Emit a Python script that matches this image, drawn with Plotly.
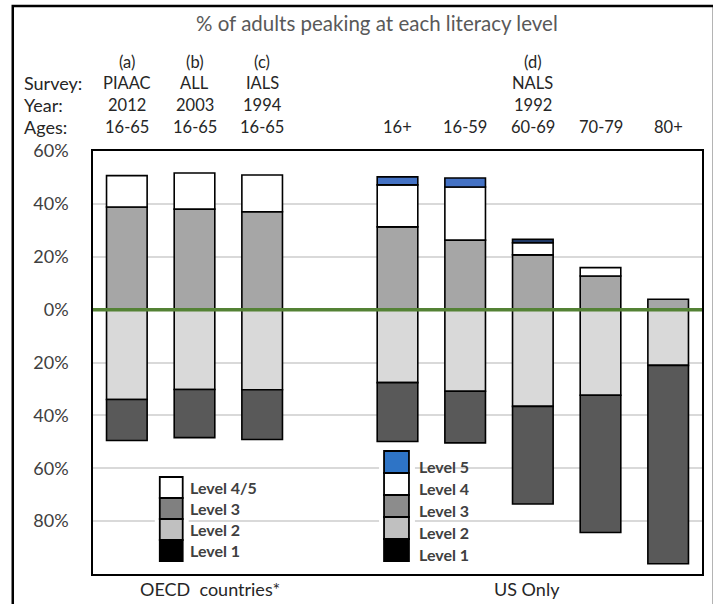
import plotly.graph_objects as go

# ---------------- data ----------------
categories = ["PIAAC", "ALL", "IALS", " ", "16+", "16-59", "60-69", "70-79", "80+"]
letters = ["(a)", "(b)", "(c)", "", "", "", "(d)", "", ""]
surveys = ["PIAAC", "ALL", "IALS", "", "", "", "NALS", "", ""]
years = ["2012", "2003", "1994", "", "", "", "1992", "", ""]
ages = ["16-65", "16-65", "16-65", "", "16+", "16-59", "60-69", "70-79", "80+"]

# percent of adults peaking at each level (Level 1/2 plotted below zero)
level1 = [15.5, 18.2, 18.8, None, 22.3, 19.5, 36.9, 51.9, 75.0]
level2 = [34.0, 30.2, 30.3, None, 27.6, 30.9, 36.6, 32.4, 21.1]
level3 = [38.8, 38.0, 37.0, None, 31.3, 26.3, 20.7, 12.7, 3.9]
level4 = [11.9, 13.7, 13.9, None, 15.9, 20.1, 4.6, 3.2, None]   # Level 4/5 for OECD
level5 = [None, None, None, None, 3.0, 3.4, 1.3, None, None]
level5_colors = ["#4472c4"] * 6 + ["#1f3864"] + ["#4472c4"] * 2

tick_vals = [60, 40, 20, 0, -20, -40, -60, -80]
tick_text = ["60%", "40%", "20%", "0%", "20%", "40%", "60%", "80%"]

oecd_legend = [("Level 4/5", "#ffffff"), ("Level 3", "#808080"),
               ("Level 2", "#c0c0c0"), ("Level 1", "#000000")]
us_legend = [("Level 5", "#2e74c6"), ("Level 4", "#ffffff"), ("Level 3", "#8c8c8c"),
             ("Level 2", "#c0c0c0"), ("Level 1", "#000000")]

FONT = "Lato"
W, H = 713, 604
ML, MR, MT, MB = 93, 9, 151, 30
PW, PH = W - ML - MR, H - MT - MB


def px_x(p):
    return (p - ML) / PW


def px_y(p):
    return (H - MB - p) / PH


def neg(v):
    return [None if x is None else -x for x in v]


fig = go.Figure()
line = dict(color="black", width=1.6)
series = [
    ("Level 3", level3, "#a6a6a6"),
    ("Level 2", neg(level2), "#d9d9d9"),
    ("Level 4", level4, "#ffffff"),
    ("Level 1", neg(level1), "#595959"),
    ("Level 5", level5, level5_colors),
]
for name, vals, col in series:
    fig.add_trace(go.Bar(x=categories, y=vals, name=name, width=0.6,
                         marker=dict(color=col, line=line), showlegend=False))

shapes = []
annotations = []

# zero line (green)
shapes.append(dict(type="line", xref="paper", yref="y", x0=0, x1=1, y0=0, y1=0,
                   line=dict(color="#548235", width=3.5), layer="above"))

# outer frame
shapes.append(dict(type="rect", xref="paper", yref="paper",
                   x0=px_x(12.5), x1=px_x(716), y0=px_y(612), y1=px_y(6),
                   line=dict(color="black", width=2.5), layer="above"))


def draw_legend(items, x_left, x_right, y_top, y_bot, text_x, dy):
    n = len(items)
    h = (y_bot - y_top) / n
    shapes.append(dict(type="rect", xref="paper", yref="paper",
                       x0=px_x(x_left - 5), x1=px_x(x_right + 6),
                       y0=px_y(y_bot + 2), y1=px_y(y_top - 2),
                       line=dict(width=0), fillcolor="white", layer="above"))
    for i, (lab, col) in enumerate(items):
        t = y_top + i * h
        shapes.append(dict(type="rect", xref="paper", yref="paper",
                           x0=px_x(x_left), x1=px_x(x_right),
                           y0=px_y(t + h), y1=px_y(t),
                           line=dict(color="black", width=1.8),
                           fillcolor=col, layer="above"))
        annotations.append(dict(xref="paper", yref="paper", x=px_x(text_x),
                                y=px_y(t + h / 2 + dy), text=lab, showarrow=False,
                                xanchor="left", yanchor="middle",
                                font=dict(family=FONT, size=16, color="#404040",
                                          weight="bold")))


draw_legend(oecd_legend, 160, 183, 477, 561, 188, -0.5)
draw_legend(us_legend, 385, 410, 451, 561, 418, 4.5)

# header rows
row_y = [62, 83, 105, 127]
row_labels = ["", "Survey:", "Year:", "Ages:"]
for lab, yy in zip(row_labels, row_y):
    if lab:
        annotations.append(dict(xref="paper", yref="paper", x=px_x(22), y=px_y(yy),
                                text=lab, showarrow=False, xanchor="left",
                                yanchor="middle",
                                font=dict(family=FONT, size=18, color="#262626")))
for rows, yy in zip([letters, surveys, years, ages], row_y):
    for cat, txt in zip(categories, rows):
        if txt:
            annotations.append(dict(xref="x", yref="paper", x=cat, y=px_y(yy),
                                    text=txt, showarrow=False, xanchor="center",
                                    yanchor="middle",
                                    font=dict(family=FONT, size=16.5, color="#262626")))

# title
annotations.append(dict(xref="paper", yref="paper", x=px_x(378), y=px_y(23),
                        text="% of adults peaking at each literacy level",
                        showarrow=False, xanchor="center", yanchor="middle",
                        font=dict(family=FONT, size=20.5, color="#595959")))

# group labels
annotations.append(dict(xref="paper", yref="paper", x=px_x(210), y=px_y(589),
                        text="OECD\u00a0 countries*", showarrow=False,
                        xanchor="center", yanchor="middle",
                        font=dict(family=FONT, size=18, color="#262626")))
annotations.append(dict(xref="paper", yref="paper", x=px_x(528), y=px_y(589),
                        text="US Only", showarrow=False,
                        xanchor="center", yanchor="middle",
                        font=dict(family=FONT, size=18, color="#262626")))

fig.update_layout(
    width=W, height=H,
    margin=dict(l=ML, r=MR, t=MT, b=MB),
    barmode="relative",
    paper_bgcolor="white", plot_bgcolor="white",
    shapes=shapes, annotations=annotations,
    hovermode=False,
    xaxis=dict(type="category", categoryorder="array", categoryarray=categories,
               range=[-0.5, len(categories) - 0.5], showticklabels=False,
               showgrid=False, zeroline=False, ticks="",
               showline=True, mirror=True, linecolor="black", linewidth=1.6),
    yaxis=dict(range=[-100, 60], tickvals=tick_vals, ticktext=tick_text,
               showgrid=True, gridcolor="#d9d9d9", gridwidth=1.5,
               zeroline=False, ticks="", ticklabelstandoff=19,
               tickfont=dict(family=FONT, size=18, color="#404040"),
               showline=True, mirror=True, linecolor="black", linewidth=1.6),
)

fig.write_html("out.html", config={"displayModeBar": False},
               post_script="document.body.style.margin='0px';"
                           "document.body.style.overflow='hidden';")
